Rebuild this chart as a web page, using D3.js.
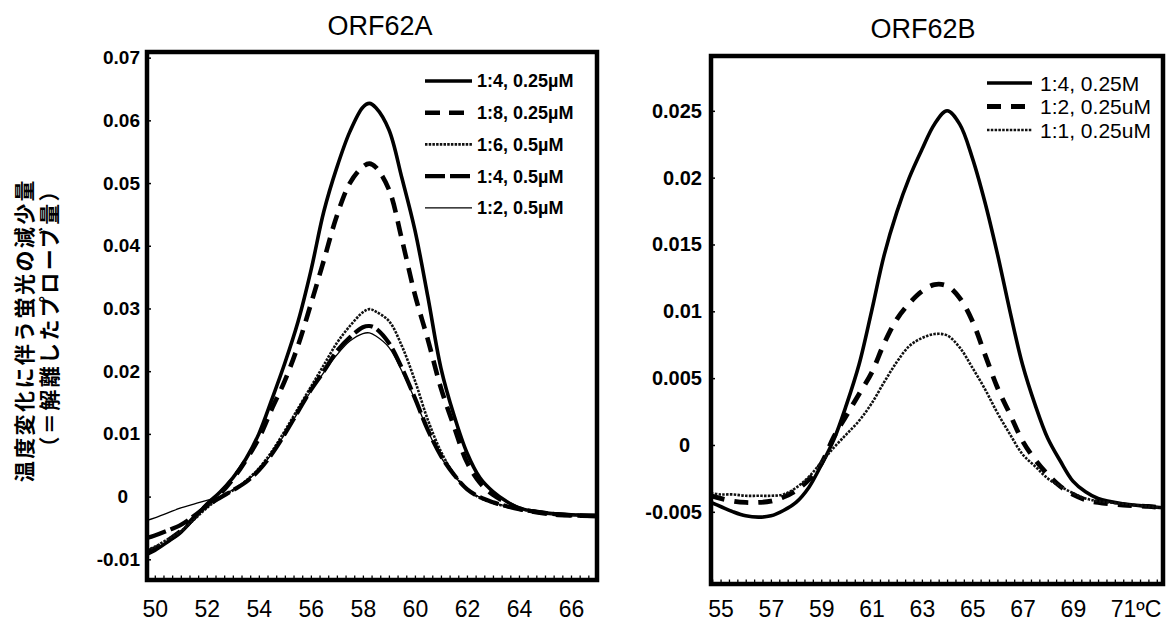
<!DOCTYPE html>
<html>
<head>
<meta charset="utf-8">
<script src="https://cdn.jsdelivr.net/npm/d3@7"></script>
<style>
  body { margin: 0; background: #fff; }
  svg { display: block; }
  text { font-family: Arial, "Liberation Sans", Helvetica, sans-serif; fill: #000; }
</style>
</head>
<body>
<svg id="chart" width="1168" height="624"></svg>
<script>
// ---- ORF62A ----
var tempA = [49.7, 50, 50.5, 51, 51.5, 52, 52.5, 53, 53.5, 54, 54.5, 55, 55.5, 56, 56.5, 57, 57.5, 58, 58.25, 58.5,
  59, 59.5, 60, 60.5, 61, 61.5, 62, 62.5, 63, 63.5, 64, 65, 66, 67]
var a_1to4_025 = [-0.0092, -0.0086, -0.0072, -0.0057, -0.0035, -0.0012, 0.0007, 0.0030, 0.0060, 0.0100, 0.0155, 0.0213,
  0.0278, 0.0360, 0.0455, 0.0525, 0.0582, 0.0621, 0.0627, 0.0620, 0.0585, 0.0508, 0.0425, 0.0318, 0.0205, 0.0130,
  0.0070, 0.0030, 0.0008, -0.0007, -0.0018, -0.0026, -0.0029, -0.0030]
var a_1to8_025 = [-0.0088, -0.0083, -0.0070, -0.0055, -0.0034, -0.0014, 0.0004, 0.0028, 0.0058, 0.0093, 0.0140, 0.0185,
  0.0240, 0.0307, 0.0377, 0.0448, 0.0500, 0.0526, 0.0531, 0.0525, 0.0490, 0.0410, 0.0322, 0.0250, 0.0173, 0.0112,
  0.0055, 0.0022, 0.0003, -0.0009, -0.0019, -0.0027, -0.0030, -0.0031]
var a_1to6_05 = [-0.0085, -0.0080, -0.0068, -0.0055, -0.0037, -0.0018, -0.0002, 0.0010, 0.0025, 0.0045, 0.0072, 0.0105,
  0.0140, 0.0175, 0.0210, 0.0245, 0.0272, 0.0294, 0.0299, 0.0295, 0.0280, 0.0240, 0.0185, 0.0122, 0.0072, 0.0036,
  0.0012, -0.0002, -0.0010, -0.0016, -0.0020, -0.0026, -0.0029, -0.0030]
var a_1to4_05 = [-0.0066, -0.0062, -0.0054, -0.0045, -0.0031, -0.0015, -0.0002, 0.0010, 0.0023, 0.0042, 0.0068, 0.0100,
  0.0135, 0.0170, 0.0200, 0.0232, 0.0254, 0.0270, 0.0272, 0.0268, 0.0245, 0.0205, 0.0157, 0.0106, 0.0065, 0.0035,
  0.0012, -0.0001, -0.0009, -0.0015, -0.0020, -0.0026, -0.0030, -0.0031]
var a_1to2_05 = [-0.0038, -0.0034, -0.0026, -0.0018, -0.0012, -0.0006, 0.0000, 0.0011, 0.0024, 0.0043, 0.0068, 0.0100,
  0.0134, 0.0168, 0.0198, 0.0226, 0.0248, 0.0260, 0.0261, 0.0256, 0.0238, 0.0200, 0.0155, 0.0105, 0.0063, 0.0034,
  0.0011, -0.0001, -0.0009, -0.0015, -0.0019, -0.0025, -0.0028, -0.0030]
var legendA = ["1:4, 0.25\u00b5M", "1:8, 0.25\u00b5M", "1:6, 0.5\u00b5M", "1:4, 0.5\u00b5M", "1:2, 0.5\u00b5M"]
var xTicksA = [50, 52, 54, 56, 58, 60, 62, 64, 66]
var xLabelsA = ["50", "52", "54", "56", "58", "60", "62", "64", "66"]
var yTicksA = [-0.01, 0, 0.01, 0.02, 0.03, 0.04, 0.05, 0.06, 0.07]
var yLabelsA = ["-0.01", "0", "0.01", "0.02", "0.03", "0.04", "0.05", "0.06", "0.07"]

// ---- ORF62B ----
var tempB = [54.62, 55, 55.5, 56, 56.5, 57, 57.5, 58, 58.5, 59, 59.5, 60, 60.5, 61, 61.5, 62, 62.5, 63, 63.5, 64,
  64.5, 65, 65.5, 66, 66.5, 67, 67.5, 68, 68.5, 69, 69.5, 70, 71, 72, 72.58]
var b_1to4 = [-0.0043, -0.0046, -0.0050, -0.0053, -0.0054, -0.0053, -0.0049, -0.0043, -0.0032, -0.0015, 0.0004, 0.0030,
  0.0060, 0.0100, 0.0142, 0.0174, 0.0200, 0.0221, 0.0240, 0.0250, 0.0240, 0.0215, 0.0182, 0.0143, 0.0100, 0.0060,
  0.0030, 0.0005, -0.0012, -0.0027, -0.0035, -0.0040, -0.0044, -0.0046, -0.0047]
var b_1to2 = [-0.0038, -0.0040, -0.0042, -0.0043, -0.0043, -0.0042, -0.0039, -0.0034, -0.0026, -0.0014, 0.0006, 0.0022,
  0.0038, 0.0054, 0.0076, 0.0094, 0.0106, 0.0115, 0.0120, 0.0119, 0.0110, 0.0093, 0.0068, 0.0043, 0.0023, 0.0003,
  -0.0011, -0.0022, -0.0031, -0.0037, -0.0041, -0.0043, -0.0045, -0.0046, -0.0047]
var b_1to1 = [-0.0036, -0.0037, -0.0037, -0.0038, -0.0038, -0.0038, -0.0037, -0.0032, -0.0024, -0.0013, -0.0002, 0.0008,
  0.0018, 0.0031, 0.0047, 0.0062, 0.0074, 0.0080, 0.0083, 0.0082, 0.0073, 0.0058, 0.0042, 0.0024, 0.0008, -0.0007,
  -0.0016, -0.0025, -0.0031, -0.0036, -0.0040, -0.0042, -0.0044, -0.0046, -0.0047]
var legendB = ["1:4, 0.25M", "1:2, 0.25uM", "1:1, 0.25uM"]
var xTicksB = [55, 57, 59, 61, 63, 65, 67, 69, 71]
var xLabelsB = ["55", "57", "59", "61", "63", "65", "67", "69", "71\u00baC"]
var yTicksB = [-0.005, 0, 0.005, 0.01, 0.015, 0.02, 0.025]
var yLabelsB = ["-0.005", "0", "0.005", "0.01", "0.015", "0.02", "0.025"]

var yTitle1 = "温度変化に伴う蛍光の減少量"
var yTitle2 = "（＝解離したプローブ量）"

var svg = d3.select("#chart")

function drawPanel(p) {
  var box = p.box
  var x = d3.scaleLinear().domain(p.xDomain).range([box.left, box.right])
  var y = d3.scaleLinear().domain(p.yDomain).range([box.bottom, box.top])
  var g = svg.append("g").attr("class", "panel-" + p.id)

  svg.append("clipPath").attr("id", "clip-" + p.id)
    .append("rect")
    .attr("x", box.left).attr("y", box.top)
    .attr("width", box.right - box.left).attr("height", box.bottom - box.top)

  var line = d3.line()
    .x(function(d) { return x(d[0]) })
    .y(function(d) { return y(d[1]) })
    .curve(d3.curveCatmullRom.alpha(0.5))

  g.append("g").attr("clip-path", "url(#clip-" + p.id + ")")
    .selectAll("path").data(p.series).enter().append("path")
    .attr("d", function(s) { return line(d3.zip(p.temps, s)) })
    .attr("fill", "none")
    .attr("stroke", function(s, i) { return p.styles[i].color })
    .attr("stroke-width", function(s, i) { return p.styles[i].width })
    .attr("stroke-dasharray", function(s, i) { return p.styles[i].dash })
    .attr("stroke-linejoin", "round")

  // y axis, ticks pointing inward
  var yAxis = g.append("g")
    .attr("transform", "translate(" + box.left + ",0)")
    .call(d3.axisLeft(y).tickValues(p.yTicks)
      .tickFormat(function(d, i) { return p.yLabels[i] })
      .tickSizeInner(-4).tickSizeOuter(0).tickPadding(p.yPad))
  yAxis.select(".domain").remove()
  yAxis.selectAll("line").attr("stroke-width", 1.5)
  yAxis.selectAll("text")
    .style("font-size", p.yFont + "px").style("font-weight", "bold")
    .filter(function(d) { return d === 0 }).attr("dx", -12)

  // x axis labels
  var xAxis = g.append("g")
    .attr("transform", "translate(0," + box.bottom + ")")
    .call(d3.axisBottom(x).tickValues(p.xTicks)
      .tickFormat(function(d, i) { return p.xLabels[i] })
      .tickSize(0))
  xAxis.select(".domain").remove()
  xAxis.selectAll("text")
    .attr("y", 617 - box.bottom).attr("dy", 0)
    .style("font-size", "23px")
  xAxis.selectAll("text").filter(function(d) { return d === 71 })
    .attr("text-anchor", "start").attr("x", -13)

  // small dotted ticks along the bottom frame
  var minor = g.append("g")
    .attr("transform", "translate(0," + box.bottom + ")")
    .call(d3.axisBottom(x).tickValues(d3.range(Math.ceil(p.xDomain[0] * 3) / 3, p.xDomain[1], 1 / 3))
      .tickFormat("").tickSizeInner(-4.5).tickSizeOuter(0))
  minor.select(".domain").remove()
  minor.selectAll("line").attr("stroke-width", 1.3)

  // frame
  g.append("rect")
    .attr("x", box.left).attr("y", box.top)
    .attr("width", box.right - box.left).attr("height", box.bottom - box.top)
    .attr("fill", "none").attr("stroke", "#000").attr("stroke-width", 4.5)

  // title
  g.append("text")
    .attr("x", p.titleX).attr("y", p.titleY)
    .attr("text-anchor", "middle")
    .style("font-size", "27px")
    .text(p.title)

  // legend
  var lg = g.append("g").selectAll("g").data(p.legend).enter().append("g")
    .attr("transform", function(d, i) { return "translate(0," + (p.legendPos.y + i * p.legendPos.step) + ")" })
  lg.append("line")
    .attr("x1", p.legendPos.x1).attr("x2", p.legendPos.x2)
    .attr("y1", 0).attr("y2", 0)
    .attr("stroke", function(d, i) { return p.styles[i].color })
    .attr("stroke-width", function(d, i) { return p.styles[i].width })
    .attr("stroke-dasharray", function(d, i) { return p.styles[i].dash })
  lg.append("text")
    .attr("x", p.legendPos.tx).attr("y", 0).attr("dy", "0.36em")
    .style("font-size", p.legendFont + "px")
    .style("font-weight", p.legendWeight)
    .text(function(d) { return d })
}

drawPanel({
  id: "a",
  title: "ORF62A", titleX: 380, titleY: 35,
  box: { left: 147, top: 52, right: 597, bottom: 580 },
  xDomain: [49.7, 67], yDomain: [-0.0133, 0.0709],
  temps: tempA,
  series: [a_1to4_025, a_1to8_025, a_1to6_05, a_1to4_05, a_1to2_05],
  styles: [
    { width: 3.6, dash: null, color: "#000" },
    { width: 4.6, dash: "15,9", color: "#000" },
    { width: 2.6, dash: "2.5,1.2", color: "#111" },
    { width: 4.2, dash: "20,5", color: "#000" },
    { width: 1.3, dash: null, color: "#000" }
  ],
  xTicks: xTicksA, xLabels: xLabelsA,
  yTicks: yTicksA, yLabels: yLabelsA, yPad: 7, yFont: 19,
  legend: legendA,
  legendPos: { x1: 425, x2: 472, tx: 477, y: 81, step: 31.7 },
  legendFont: 18, legendWeight: "bold"
})

drawPanel({
  id: "b",
  title: "ORF62B", titleX: 923, titleY: 38,
  box: { left: 711, top: 56, right: 1163, bottom: 584 },
  xDomain: [54.62, 72.58], yDomain: [-0.0104, 0.0291],
  temps: tempB,
  series: [b_1to4, b_1to2, b_1to1],
  styles: [
    { width: 3.6, dash: null, color: "#000" },
    { width: 4.8, dash: "14,10", color: "#000" },
    { width: 2.6, dash: "2.5,1.3", color: "#111" }
  ],
  xTicks: xTicksB, xLabels: xLabelsB,
  yTicks: yTicksB, yLabels: yLabelsB, yPad: 9, yFont: 20,
  legend: legendB,
  legendPos: { x1: 987, x2: 1032, tx: 1040, y: 83, step: 23.5 },
  legendFont: 21, legendWeight: "normal"
})

// vertical y-axis title (two lines)
svg.selectAll(".ytitle").data([yTitle1, yTitle2]).enter().append("text")
  .attr("class", "ytitle")
  .attr("transform", function(d, i) { return "translate(" + (i == 0 ? 23 : 48) + ",178) rotate(-90)" })
  .attr("text-anchor", "end")
  .attr("dominant-baseline", "central")
  .style("font-family", "'Noto Sans CJK JP', 'Noto Sans CJK SC', sans-serif")
  .style("font-weight", "bold")
  .style("font-size", "21px")
  .style("letter-spacing", "2.4px")
  .text(function(d) { return d })
</script>
</body>
</html>
